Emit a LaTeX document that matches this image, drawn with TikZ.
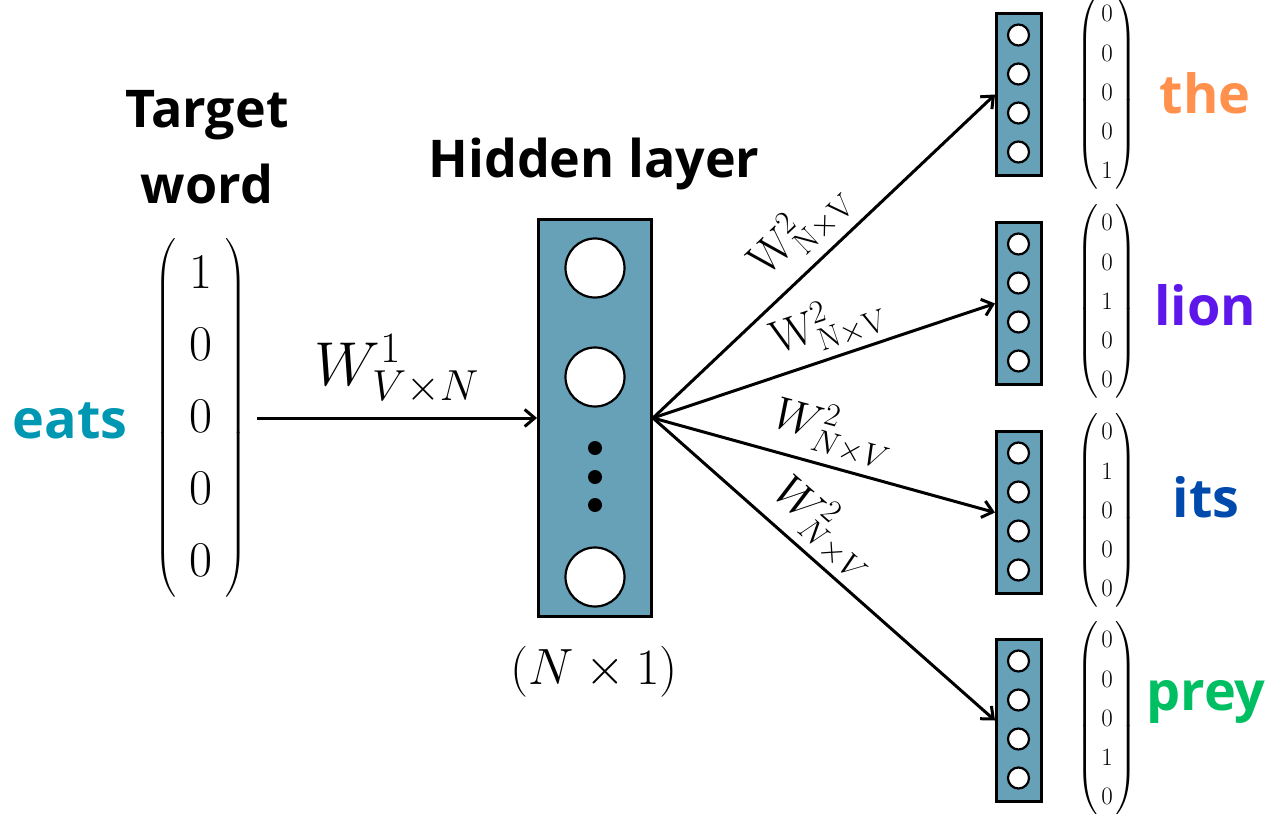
\RequirePackage{fix-cm}
\documentclass[tikz,border=0pt]{standalone}
\usepackage{amsmath}
\usepackage[no-math]{fontspec}
\setmainfont{Open Sans}
\usetikzlibrary{arrows.meta}
\definecolor{boxfill}{RGB}{102,161,184}
\definecolor{eatsc}{HTML}{0097B2}
\definecolor{thec}{HTML}{FF914D}
\definecolor{lionc}{HTML}{5E17EB}
\definecolor{itsc}{HTML}{004AAD}
\definecolor{preyc}{HTML}{00BF63}
\newcommand\fsz[2]{\fontsize{#1}{#2}\selectfont}
\newcommand\bigvec[1]{\left(\begin{array}{@{\hspace{13pt}}c@{\hspace{13pt}}}#1\end{array}\right)}
\newcommand\smallvec[1]{\left(\begin{array}{@{\hspace{3pt}}c@{\hspace{3pt}}}#1\end{array}\right)}
\tikzset{
  arr/.style={line width=3pt,-{Straight Barb[length=10pt,width=17pt,line width=3pt]}},
  hidbox/.style={draw,line width=3pt,fill=boxfill,minimum width=113pt,minimum height=397pt,inner sep=0pt},
  outbox/.style={draw,line width=3pt,fill=boxfill,minimum width=45pt,minimum height=162pt,inner sep=0pt},
  bigcirc/.style={draw,line width=2.2pt,fill=white},
  word/.style={font=\bfseries\fsz{54}{60},anchor=base},
  title/.style={font=\bfseries\fsz{52}{76},align=center},
  wlab/.style={font=\fsz{46}{50},sloped,above},
}
\begin{document}
\begin{tikzpicture}[x=1pt,y=-1pt]
\useasboundingbox (0,0) rectangle (1280,814);

% titles
\node[title] (tw) at (207,147) {Target\\word};
\node[font=\bfseries\fsz{52}{60},anchor=base] (hl) at (594,177) {Hidden layer};

% input
\node[word,text=eatsc] (eats) at (70,438) {eats};
\node (vin) at (201,418) {\fsz{50}{60}\renewcommand\arraystretch{1.2}$\bigvec{1\\0\\0\\0\\0}$};

% hidden layer
\node[hidbox] (hid) at (595,418) {};
\foreach \y in {268,377,577} \draw[bigcirc] (595,\y) circle (29.5pt);
\foreach \y in {448,477,505} \fill (595,\y) circle (7pt);
\node (dim) at (594,672) {\fsz{51}{60}$(N\times 1)$};

\draw[arr] (vin.east) ++(6pt,0) -- (hid.west)
  node[midway,above=9pt,font=\fsz{62}{70}] {$W^{1}_{V\times N}$};

% outputs
\foreach \n/\cy/\dig in {1/94.5/{0\\0\\0\\0\\1},2/303.5/{0\\0\\1\\0\\0},3/512.5/{0\\1\\0\\0\\0},4/720.5/{0\\0\\0\\1\\0}}{
  \node[outbox] (o\n) at (1019,\cy) {};
  \foreach \d in {-58.5,-19.5,19.5,58.5} \draw[line width=2.2pt,fill=white] (1018.5,{\cy-1+\d}) circle (10.5pt);
  \node (v\n) at (1107,{\cy-2}) {\fsz{25}{28}\renewcommand\arraystretch{1.4}$\smallvec{\dig}$};
}
\node[word,text=thec] (wthe) at (1205,113) {the};
\node[word,text=lionc] (wlion) at (1205,325) {lion};
\node[word,text=itsc] (wits) at (1206,517) {its};
\node[word,text=preyc] (wprey) at (1206,710) {prey};

\draw[arr] (hid.east) -- (o1.west) node[wlab,pos=0.5,above=5pt] {$\mathrm{W}^{2}_{\mathrm{N\times V}}$};
\draw[arr] (hid.east) -- (o2.west) node[wlab,pos=0.54,above=2pt] {$\mathrm{W}^{2}_{\mathrm{N\times V}}$};
\draw[arr] (hid.east) -- (o3.west) node[wlab,pos=0.5,above=4pt] {$W^{2}_{N\times V}$};
\draw[arr] (hid.east) -- (o4.west) node[wlab,pos=0.44,above=2pt] {$W^{2}_{N\times V}$};
\end{tikzpicture}
\end{document}
